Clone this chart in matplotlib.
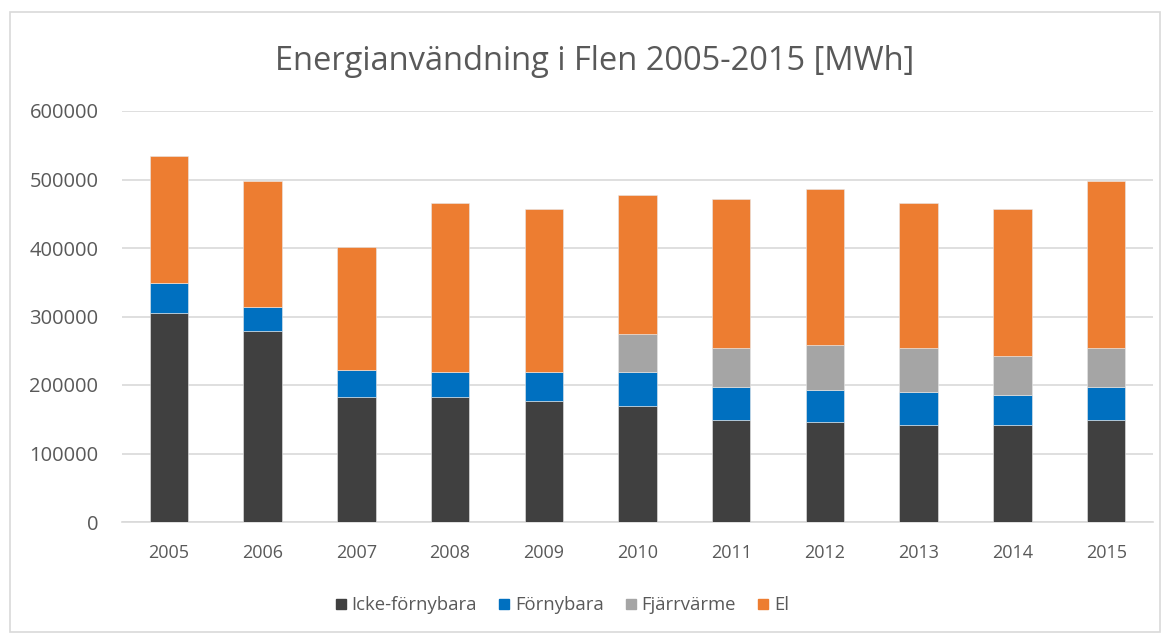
import matplotlib
matplotlib.use("Agg")
import matplotlib.pyplot as plt
from matplotlib.patches import Rectangle
from matplotlib.lines import Line2D

years = ["2005", "2006", "2007", "2008", "2009", "2010", "2011", "2012", "2013", "2014", "2015"]
icke_fornybara = [304800, 278500, 181800, 181800, 176000, 169600, 149600, 146700, 140900, 140900, 149600]
fornybara = [43700, 35100, 40800, 37900, 43700, 50100, 46800, 46700, 49600, 43800, 46800]
fjarrvarme = [0, 0, 0, 0, 0, 55300, 58300, 64300, 64200, 58300, 58300]
el = [185100, 184400, 178400, 246300, 236900, 202000, 216300, 228700, 210700, 213600, 243800]
series_names = ["Icke-förnybara", "Förnybara", "Fjärrvärme", "El"]
colors = ["#404040", "#0070C0", "#A5A5A5", "#ED7D31"]
yticks = [0, 100000, 200000, 300000, 400000, 500000, 600000]

plt.rcParams['font.family'] = ['Open Sans', 'DejaVu Sans']

fig = plt.figure(figsize=(11.73, 6.38), dpi=100)
fig.patch.set_facecolor("white")
ax = fig.add_axes([122/1173, 1-522/638, (1153-122)/1173, (522-111)/638])

x = list(range(len(years)))
bottom = [0]*len(years)
for vals, name, c in zip([icke_fornybara, fornybara, fjarrvarme, el], series_names, colors):
    ax.bar(x, vals, width=0.41, bottom=bottom, color=c, label=name,
           edgecolor="#e8e8e8", linewidth=0.4, zorder=3)
    bottom = [b + v for b, v in zip(bottom, vals)]

ax.set_xlim(-0.5, len(years)-0.5)
ax.set_ylim(0, 600000)
ax.set_yticks(yticks)
ax.set_yticklabels([str(t) for t in yticks])
ax.set_xticks(x)
ax.set_xticklabels(years)
ax.grid(axis="y", color="#d9d9d9", linewidth=1.2, zorder=0)
ax.set_axisbelow(True)
for s in ["top", "right", "left"]:
    ax.spines[s].set_visible(False)
ax.spines["bottom"].set_color("#d9d9d9")
ax.spines["bottom"].set_linewidth(1.2)
ax.tick_params(axis="both", length=0, colors="#595959")
ax.tick_params(axis="y", pad=17, labelsize=14.5)
ax.tick_params(axis="x", pad=16, labelsize=13)

fig.text(595/1173, 1-61/638, "Energianvändning i Flen 2005-2015 [MWh]",
         ha="center", va="center", fontsize=23.5, color="#595959")

handles = [Line2D([0], [0], marker="s", linestyle="none", markersize=7,
                  markerfacecolor=c, markeredgecolor=c) for c in colors]
leg = fig.legend(handles, series_names, loc="center", bbox_to_anchor=(562/1173, 1-605/638),
                 ncol=4, frameon=False, fontsize=13.3, handletextpad=0.3, columnspacing=1.15,
                 handlelength=0.6, borderpad=0, borderaxespad=0)
for t in leg.get_texts():
    t.set_color("#595959")

fig.patches.append(Rectangle((10/1173, 1-632/638), (1160-10)/1173, (632-12)/638,
                             transform=fig.transFigure, fill=False,
                             edgecolor="#d9d9d9", linewidth=1.2))

fig.savefig("out.png", dpi=100)
